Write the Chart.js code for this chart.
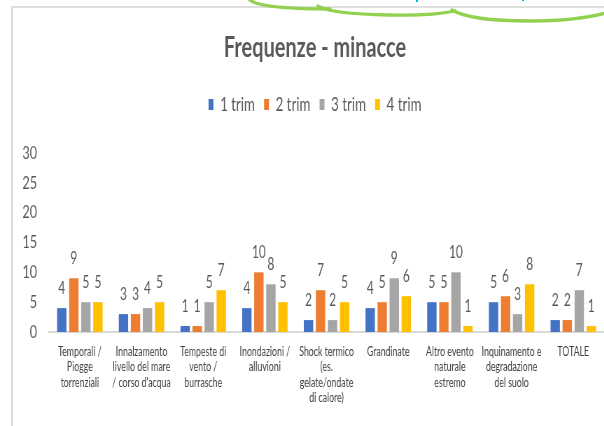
<!DOCTYPE html>
<html>
<head>
<meta charset="utf-8">
<title>Frequenze - minacce</title>
<script src="https://cdn.jsdelivr.net/npm/chart.js@4.4.1/dist/chart.umd.min.js"></script>
<style>
    html, body { margin: 0; padding: 0; background: #fff; overflow: hidden; }
    #wrap { position: relative; width: 604px; height: 426px; overflow: hidden; }
    #frame {
        position: absolute; left: 11px; top: 6px; width: 620px; height: 440px;
        border-left: 2px solid #dedede; border-top: 2px solid #dedede;
    }
    /* the source screenshot is squeezed sideways and cut on the right,
       so the canvas is drawn wider and shown at 630px inside a 604px box */
    #chart { position: absolute; left: 0; top: 0; }
    #deco { position: absolute; left: 0; top: 0; }
</style>
</head>
<body>
<div id="wrap">
    <div id="frame"></div>
    <canvas id="chart" width="900" height="426" style="width:630px;height:426px"></canvas>
    <!-- bit of the callout that overlaps the screenshot -->
    <svg id="deco" width="604" height="30">
        <g fill="none" stroke="#92D050" stroke-width="3.3" stroke-linecap="round">
            <path d="M249,-1 Q257,9 330,9" />
            <path d="M318,6 Q330,14 390,15 Q432,16 455,11" />
            <path d="M452,10 Q470,21 530,21 Q576,21 606,13" />
        </g>
        <rect x="416" y="0" width="2" height="2" fill="#00B0F0" />
        <rect x="522" y="0" width="2" height="1" fill="#00B0F0" />
    </svg>
</div>
<script>
    var categories = [
        ["Temporali /", "Piogge", "torrenziali"],
        ["Innalzamento", "livello del mare", "/ corso d'acqua"],
        ["Tempeste di", "vento /", "burrasche"],
        ["Inondazioni /", "alluvioni"],
        ["Shock termico", "(es.", "gelate/ondate", "di calore)"],
        ["Grandinate"],
        ["Altro evento", "naturale", "estremo"],
        ["Inquinamento e", "degradazione", "del suolo"],
        ["TOTALE"]
    ];
    var trim1 = [4, 3, 1, 4, 2, 4, 5, 5, 2];
    var trim2 = [9, 3, 1, 10, 7, 5, 5, 6, 2];
    var trim3 = [5, 4, 5, 8, 2, 9, 10, 3, 7];
    var trim4 = [5, 5, 7, 5, 5, 6, 1, 8, 1];
    var seriesNames = ["1 trim", "2 trim", "3 trim", "4 trim"];
    var yTicks = [0, 5, 10, 15, 20, 25, 30];

    var fontFamily = "Lato, 'Noto Sans', sans-serif";
    var textGray = "#595959";
    var colors = ["#4472C4", "#ED7D31", "#A5A5A5", "#FFC000"];

    // value labels above each bar, taken from the bar elements themselves
    var valueLabels = {
        id: "valueLabels",
        afterDatasetsDraw: function (chart) {
            var ctx = chart.ctx;
            ctx.save();
            ctx.font = "17px " + fontFamily;
            ctx.fillStyle = textGray;
            ctx.textAlign = "center";
            ctx.textBaseline = "middle";
            chart.data.datasets.forEach(function (ds, i) {
                var meta = chart.getDatasetMeta(i);
                meta.data.forEach(function (bar, j) {
                    ctx.fillText(String(ds.data[j]), bar.x, bar.y - 20);
                });
            });
            ctx.restore();
        }
    };

    var data = {
        labels: categories,
        datasets: [trim1, trim2, trim3, trim4].map(function (values, i) {
            return {
                label: seriesNames[i],
                data: values,
                xAxisID: "x",
                yAxisID: "y",
                backgroundColor: colors[i],
                borderWidth: 0,
                categoryPercentage: 0.78,
                barPercentage: 0.78
            };
        })
    };

    // empty axis used only as a spacer
    function spacer(position, size) {
        return {
            type: "category",
            position: position,
            grid: { display: false, drawTicks: false },
            border: { display: false },
            ticks: { display: false },
            afterFit: function (scale) {
                if (scale.isHorizontal()) scale.height = size;
                else scale.width = size;
            }
        };
    }

    var config = {
        type: "bar",
        data: data,
        options: {
            responsive: false,
            animation: false,
            devicePixelRatio: 1,
            layout: { padding: 0 },
            plugins: {
                title: {
                    display: true,
                    text: "Frequenze - minacce",
                    color: textGray,
                    font: { family: fontFamily, size: 28.5, weight: "bold" },
                    padding: { top: 31, bottom: 16.8 }
                },
                legend: {
                    position: "top",
                    labels: {
                        boxWidth: 7,
                        boxHeight: 11,
                        padding: 13,
                        color: textGray,
                        font: { family: fontFamily, size: 19 }
                    }
                },
                tooltip: { enabled: false }
            },
            scales: {
                x: {
                    grid: { display: false, drawTicks: false },
                    border: { display: true, color: "#d9d9d9", width: 2 },
                    ticks: {
                        autoSkip: false,
                        maxRotation: 0,
                        minRotation: 0,
                        padding: 12,
                        color: "#404040",
                        font: { family: fontFamily, size: 12.5, lineHeight: 1.24 }
                    },
                    afterFit: function (scale) { scale.height = 94; }
                },
                y: {
                    min: 0,
                    max: 30,
                    afterBuildTicks: function (scale) {
                        scale.ticks = yTicks.map(function (v) { return { value: v }; });
                    },
                    grid: { display: false, drawTicks: false },
                    border: { display: false },
                    ticks: {
                        padding: 17,
                        color: textGray,
                        font: { family: fontFamily, size: 18 }
                    },
                    afterFit: function (scale) { scale.width = 70; }
                },
                // gap between legend and plot
                xTop: spacer("top", 29),
                // plot stops at the window edge, the rest of the chart is cut off
                yRight: spacer("right", 37)
            }
        },
        plugins: [valueLabels]
    };

    var chart = new Chart(document.getElementById("chart"), config);
</script>
</body>
</html>
